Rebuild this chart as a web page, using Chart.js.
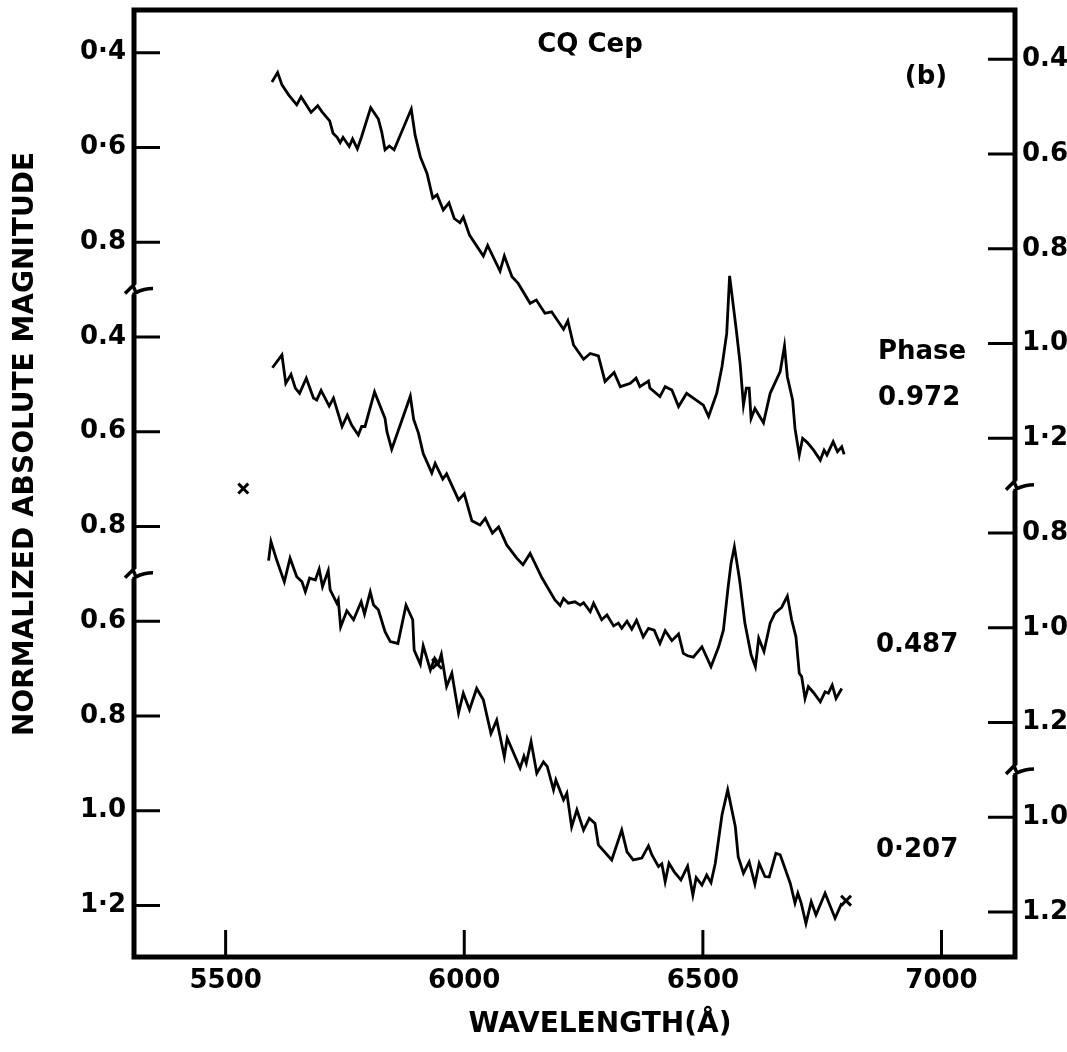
<!DOCTYPE html>
<html>
<head>
<meta charset="utf-8">
<script src="https://cdn.jsdelivr.net/npm/chart.js@4.4.1/dist/chart.umd.min.js"></script>
<style>
  html, body { margin: 0; padding: 0; background: #fff; }
  #wrap { width: 1067px; height: 1052px; position: relative; }
</style>
</head>
<body>
<div id="wrap"><canvas id="spec"></canvas></div>
<script>
const FONT = "'DejaVu Sans', 'Liberation Sans', sans-serif";

// wavelengths (A) and magnitudes
const wl972 = [5597,5609,5618,5632,5649,5658,5667,5679,5693,5702,
  5718,5725,5734,5740,5746,5759,5766,5776,5785,5804,
  5820,5827,5834,5843,5853,5889,5897,5908,5922,5934,
  5943,5956,5968,5979,5991,5998,6011,6040,6049,6075,
  6084,6100,6113,6138,6151,6169,6183,6208,6217,6229,
  6250,6264,6281,6295,6314,6327,6348,6360,6368,6386,
  6389,6410,6421,6435,6449,6466,6480,6501,6512,6529,
  6540,6550,6556,6570,6578,6585,6591,6597,6601,6609,
  6627,6641,6662,6671,6677,6688,6693,6702,6709,6719,
  6732,6746,6754,6760,6773,6782,6791,6796];
const mag972 = [0.462,0.442,0.468,0.489,0.510,0.493,0.507,0.526,0.512,0.525,
  0.544,0.570,0.579,0.590,0.579,0.598,0.582,0.603,0.577,0.516,
  0.540,0.567,0.605,0.597,0.605,0.519,0.574,0.620,0.655,0.707,
  0.700,0.732,0.717,0.750,0.759,0.747,0.785,0.829,0.807,0.861,
  0.829,0.873,0.887,0.929,0.922,0.950,0.947,0.984,0.966,1.017,
  1.047,1.035,1.040,1.094,1.075,1.105,1.098,1.087,1.105,1.093,
  1.108,1.126,1.105,1.112,1.147,1.119,1.129,1.144,1.168,1.119,
  1.063,0.992,0.871,0.985,1.056,1.144,1.108,1.108,1.172,1.151,
  1.181,1.119,1.073,1.019,1.084,1.133,1.193,1.249,1.214,1.223,
  1.239,1.260,1.239,1.249,1.221,1.242,1.232,1.248];

const wl487 = [5598,5618,5626,5637,5646,5655,5669,5684,5691,5700,
  5717,5726,5744,5755,5764,5778,5785,5792,5812,5834,
  5838,5848,5887,5894,5904,5914,5932,5939,5955,5963,
  5988,6000,6016,6033,6044,6059,6072,6089,6110,6123,
  6138,6163,6190,6201,6208,6218,6232,6243,6250,6264,
  6271,6288,6299,6313,6323,6330,6341,6351,6361,6375,
  6386,6398,6410,6421,6435,6449,6459,6468,6480,6498,
  6517,6533,6543,6553,6559,6566,6577,6588,6601,6610,
  6617,6628,6641,6651,6665,6677,6686,6695,6702,6707,
  6714,6721,6732,6746,6756,6763,6771,6779,6791];
const mag487 = [0.465,0.438,0.498,0.479,0.508,0.519,0.487,0.529,0.533,0.513,
  0.546,0.529,0.589,0.565,0.586,0.607,0.589,0.589,0.516,0.572,
  0.600,0.637,0.525,0.574,0.603,0.646,0.687,0.667,0.700,0.689,
  0.744,0.731,0.788,0.797,0.783,0.814,0.801,0.839,0.867,0.881,
  0.857,0.909,0.955,0.967,0.952,0.962,0.959,0.966,0.961,0.980,
  0.962,0.997,0.987,1.010,1.004,1.015,1.000,1.017,0.998,1.033,
  1.015,1.019,1.047,1.020,1.041,1.027,1.068,1.073,1.076,1.054,
  1.096,1.054,1.019,0.927,0.878,0.843,0.913,1.004,1.071,1.096,
  1.036,1.064,1.004,0.983,0.971,0.947,0.997,1.033,1.110,1.117,
  1.163,1.138,1.151,1.170,1.149,1.152,1.135,1.163,1.142];

const wl207 = [5590,5595,5607,5623,5635,5649,5660,5667,5676,5688,
  5696,5703,5715,5719,5733,5736,5741,5754,5768,5784,
  5791,5803,5810,5820,5834,5845,5861,5878,5892,5895,
  5908,5914,5929,5938,5946,5952,5963,5974,5988,5998,
  6011,6026,6040,6056,6068,6084,6090,6117,6125,6130,
  6140,6152,6166,6174,6187,6192,6208,6215,6225,6236,
  6250,6262,6274,6281,6309,6330,6341,6354,6372,6386,
  6393,6407,6414,6421,6429,6440,6454,6468,6479,6486,
  6498,6508,6517,6526,6540,6552,6568,6574,6585,6597,
  6609,6618,6630,6639,6653,6662,6683,6693,6699,6706,
  6716,6727,6737,6756,6777,6791];
const mag207 = [0.472,0.432,0.471,0.517,0.467,0.506,0.517,0.538,0.509,0.513,
  0.490,0.527,0.493,0.534,0.562,0.555,0.612,0.578,0.597,0.559,
  0.585,0.538,0.566,0.576,0.622,0.643,0.647,0.566,0.597,0.661,
  0.691,0.652,0.703,0.678,0.689,0.670,0.738,0.710,0.794,0.752,
  0.787,0.742,0.766,0.837,0.809,0.886,0.847,0.910,0.885,0.900,
  0.854,0.921,0.897,0.907,0.956,0.935,0.977,0.963,1.034,0.998,
  1.041,1.016,1.027,1.072,1.104,1.041,1.087,1.104,1.100,1.074,
  1.093,1.118,1.112,1.150,1.111,1.129,1.146,1.117,1.178,1.141,
  1.157,1.136,1.152,1.111,1.009,0.956,1.034,1.097,1.132,1.108,
  1.155,1.111,1.139,1.140,1.090,1.093,1.153,1.195,1.174,1.195,
  1.238,1.192,1.220,1.174,1.227,1.195];

// the 'x' marks
const crossWl = [5537, 5943, 6800];
const crossMag = [0.72, 0.69, 1.19];
const crossPanel = [1, 2, 2];

// each panel is shifted down on the shared axis
const panelShift = [0, 0.6, 1.0];
const phases = ['0.972', '0.487', '0·207'];

const xTicks = [5500, 6000, 6500, 7000];
const yTickPos = [0.4, 0.6, 0.8, 1.0, 1.2, 1.4, 1.6, 1.8, 2.0, 2.2];
const leftLabels = ['0·4', '0·6', '0.8', '0.4', '0.6', '0.8', '0.6', '0.8', '1.0', '1·2'];
const rightLabels = ['0.4', '0.6', '0.8', '1.0', '1·2', '0.8', '1·0', '1.2', '1.0', '1.2'];

const toPoints = (wl, mag, panel) => wl.map((w, i) => ({ x: w, y: mag[i] + panelShift[panel] }));

const lineStyle = {
  borderColor: '#000',
  borderWidth: 2.8,
  pointRadius: 0,
  tension: 0,
  fill: false,
};

// keep chart.js from padding the area for labels that sit inside it
const noPad = s => { s.paddingTop = 0; s.paddingBottom = 0; s.paddingLeft = 0; s.paddingRight = 0; };

const framePlugin = {
  id: 'frame',
  afterDraw(chart) {
    const { ctx, chartArea: a, scales } = chart;
    ctx.save();
    ctx.strokeStyle = '#000';
    ctx.fillStyle = '#000';
    ctx.lineCap = 'butt';

    // inward tick marks
    ctx.lineWidth = 3;
    ctx.beginPath();
    scales.y.ticks.forEach(t => {
      const y = scales.y.getPixelForValue(t.value);
      ctx.moveTo(a.left, y); ctx.lineTo(a.left + 26, y);
    });
    scales.y2.ticks.forEach(t => {
      const y = scales.y2.getPixelForValue(t.value);
      ctx.moveTo(a.right, y); ctx.lineTo(a.right - 27, y);
    });
    scales.x.ticks.forEach(t => {
      const x = scales.x.getPixelForValue(t.value);
      ctx.moveTo(x, a.bottom); ctx.lineTo(x, a.bottom - 27);
    });
    ctx.stroke();

    // frame
    ctx.lineWidth = 5;
    ctx.strokeRect(a.left, a.top, a.right - a.left, a.bottom - a.top);

    // axis breaks
    const brk = (x0, yb) => {
      ctx.fillStyle = '#fff';
      ctx.fillRect(x0 - 4, yb - 5, 8, 10);
      ctx.beginPath();
      ctx.lineWidth = 3.5;
      ctx.moveTo(x0, yb - 9);
      ctx.lineTo(x0, yb - 4);
      ctx.moveTo(x0 - 9, yb + 4);
      ctx.lineTo(x0 - 1, yb - 4);
      ctx.lineTo(x0 + 2, yb + 3);
      ctx.quadraticCurveTo(x0 + 10, yb - 1, x0 + 19, yb - 1);
      ctx.moveTo(x0, yb + 3);
      ctx.lineTo(x0, yb + 9);
      ctx.stroke();
    };
    brk(a.left, scales.y.getPixelForValue(0.9));
    brk(a.left, scales.y.getPixelForValue(1.5));
    brk(a.right, scales.y2.getPixelForValue(1.3));
    brk(a.right, scales.y2.getPixelForValue(1.9));

    // annotations
    ctx.fillStyle = '#000';
    ctx.font = 'bold 26px ' + FONT;
    ctx.textAlign = 'center';
    ctx.textBaseline = 'middle';
    ctx.fillText('CQ Cep', 590, 45);
    ctx.fillText('(b)', 926, 77);
    ctx.textAlign = 'left';
    ctx.fillText('Phase', 878, 352);
    ctx.fillText(phases[0], 878, 398);
    ctx.fillText(phases[1], 876, 645);
    ctx.fillText(phases[2], 876, 850);

    // axis titles
    ctx.textAlign = 'center';
    ctx.font = 'bold 28px ' + FONT;
    ctx.fillText('WAVELENGTH(Å)', 600, 1025);
    ctx.translate(26, 444);
    ctx.rotate(-Math.PI / 2);
    ctx.fillText('NORMALIZED ABSOLUTE MAGNITUDE', 0, 0);
    ctx.restore();
  }
};

new Chart(document.getElementById('spec'), {
  type: 'line',
  data: {
    datasets: [
      { label: 'Phase 0.972', data: toPoints(wl972, mag972, 0), ...lineStyle },
      { label: 'Phase 0.487', data: toPoints(wl487, mag487, 1), ...lineStyle },
      { label: 'Phase 0.207', data: toPoints(wl207, mag207, 2), ...lineStyle },
      {
        label: 'x',
        type: 'scatter',
        data: crossWl.map((w, i) => ({ x: w, y: crossMag[i] + panelShift[crossPanel[i]] })),
        pointStyle: 'crossRot',
        pointRadius: 7,
        borderColor: '#000',
        borderWidth: 3,
        showLine: false,
      },
    ],
  },
  options: {
    responsive: true,
    maintainAspectRatio: false,
    devicePixelRatio: 1,
    animation: false,
    layout: { padding: { top: 10, left: 0, right: 0, bottom: 0 } },
    plugins: {
      legend: { display: false },
      tooltip: { enabled: false },
    },
    scales: {
      x: {
        type: 'linear',
        min: 5308,
        max: 7154,
        afterBuildTicks: s => { s.ticks = xTicks.map(v => ({ value: v })); },
        afterFit: s => { s.height = 95; noPad(s); },
        grid: { display: false, drawTicks: false },
        border: { display: false },
        ticks: {
          padding: 9,
          color: '#000',
          font: { family: FONT, size: 26, weight: 'bold' },
          callback: v => String(v),
        },
      },
      y: {
        type: 'linear',
        position: 'left',
        reverse: true,
        min: 0.3099,
        max: 2.3088,
        afterBuildTicks: s => { s.ticks = yTickPos.map(v => ({ value: v })); },
        afterFit: s => { s.width = 134; noPad(s); },
        grid: { display: false, drawTicks: false },
        border: { display: false },
        ticks: {
          padding: 8,
          color: '#000',
          font: { family: FONT, size: 26, weight: 'bold' },
          callback: (v, i) => leftLabels[i],
        },
      },
      y2: {
        type: 'linear',
        position: 'right',
        reverse: true,
        min: 0.2959,
        max: 2.2949,
        afterBuildTicks: s => { s.ticks = yTickPos.map(v => ({ value: v })); },
        afterFit: s => { s.width = 52; noPad(s); },
        grid: { display: false, drawTicks: false },
        border: { display: false },
        ticks: {
          padding: 7,
          color: '#000',
          font: { family: FONT, size: 26, weight: 'bold' },
          callback: (v, i) => rightLabels[i],
        },
      },
    },
  },
  plugins: [framePlugin],
});
</script>
</body>
</html>
